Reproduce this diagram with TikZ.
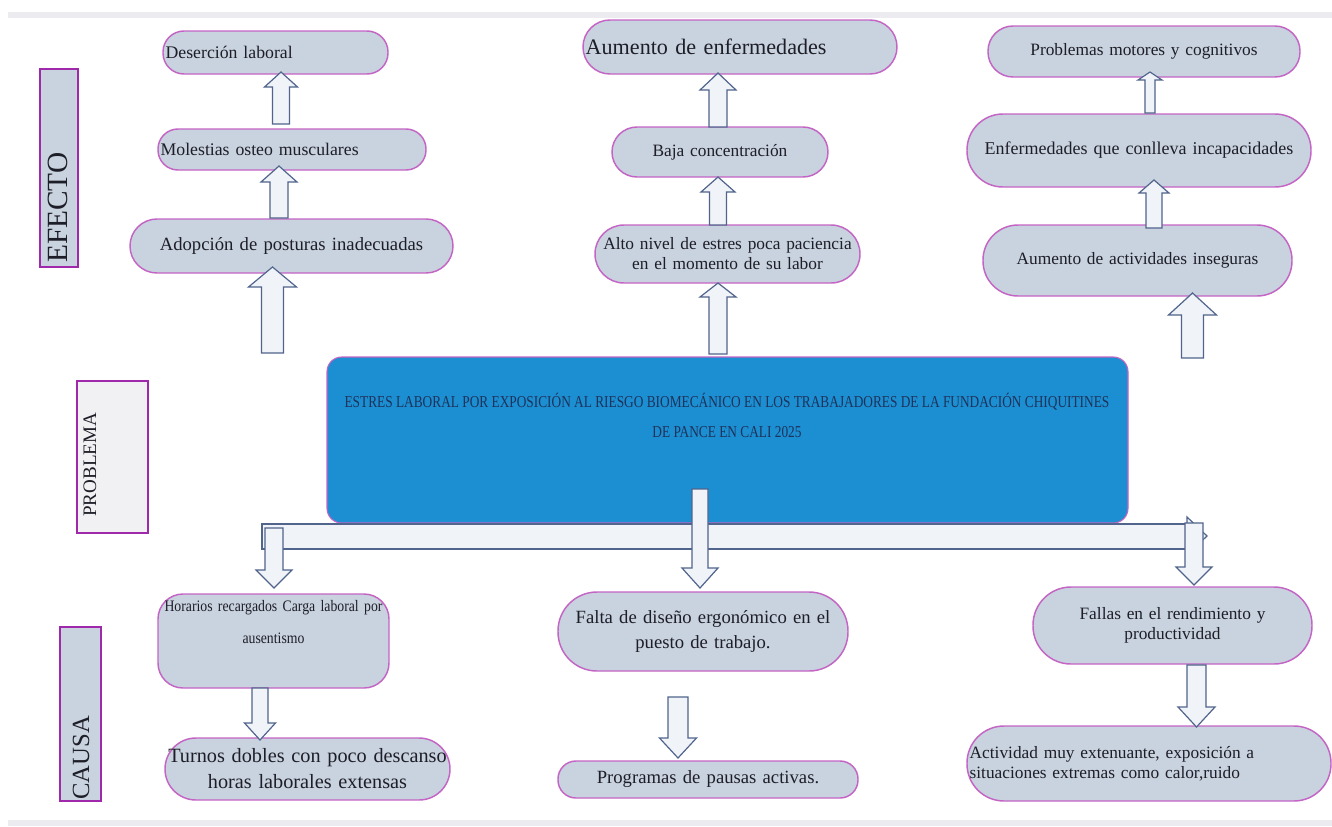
\documentclass[tikz,border=0pt]{standalone}
\usepackage{fontspec}
\setmainfont{Liberation Serif}
\newfontfamily\condA[FakeStretch=0.8]{Liberation Serif}
\newfontfamily\condB[FakeStretch=0.86]{Liberation Serif}
\definecolor{pillfill}{RGB}{200,211,223}
\definecolor{pillborder}{RGB}{196,100,196}
\definecolor{sideborder}{RGB}{160,40,170}
\definecolor{pbfill}{RGB}{241,241,243}
\definecolor{arrfill}{RGB}{240,243,248}
\definecolor{arrdraw}{RGB}{80,100,140}
\definecolor{probfill}{RGB}{27,143,210}
\definecolor{probtxt}{RGB}{30,50,90}
\definecolor{txt}{RGB}{30,30,40}
\definecolor{band}{RGB}{236,236,240}
\tikzset{
  pill/.style={draw=pillborder, fill=pillfill, line width=1.1pt, inner xsep=2pt, inner ysep=0pt, text=txt},
  pw/.style n args={3}{minimum width={#1*0.75pt}, minimum height={#2*0.75pt}, rounded corners={#3*0.75pt}, text width={#1*0.75pt-4pt}},
  sidebox/.style={draw=sideborder, line width=2.2pt, inner sep=0pt},
  sidetxt/.style={rotate=90, anchor=west, inner sep=0pt, text=txt},
  barrow/.style={draw=arrdraw, fill=arrfill, line width=0.9pt, line join=miter},
}
\newcommand{\uparr}[6]{\draw[barrow] (#1-#4,#2) -- (#1-#4,#3+#6) -- (#1-#5,#3+#6) -- (#1,#3) -- (#1+#5,#3+#6) -- (#1+#4,#3+#6) -- (#1+#4,#2) -- cycle;}
\newcommand{\dnarr}[6]{\draw[barrow] (#1-#4,#2) -- (#1-#4,#3-#6) -- (#1-#5,#3-#6) -- (#1,#3) -- (#1+#5,#3-#6) -- (#1+#4,#3-#6) -- (#1+#4,#2) -- cycle;}
\begin{document}
\begin{tikzpicture}[x=0.75pt, y=-0.75pt]
\useasboundingbox (0,0) rectangle (1332,826);
\fill[white] (0,0) rectangle (1332,826);
\fill[band] (8,12) rectangle (1332,18);
\fill[band] (8,820) rectangle (1332,826);

% side labels
\node[sidebox, fill=pillfill, minimum width=38*0.75pt, minimum height=198*0.75pt] (efbox) at (59,168) {};
\node[sidetxt, font=\fontsize{22}{26}\selectfont] (eft) at (58,263) {EFECTO};
\node[sidebox, fill=pbfill, minimum width=71*0.75pt, minimum height=152*0.75pt] (pbbox) at (112.5,457) {};
\node[sidetxt, font=\fontsize{14.3}{17}\selectfont] (pbt) at (90,517) {PROBLEMA};
\node[sidebox, fill=pillfill, minimum width=41*0.75pt, minimum height=174*0.75pt] (cabox) at (80.5,714) {};
\node[sidetxt, font=\fontsize{18.5}{22}\selectfont] (cat) at (81,800) {CAUSA};

% effects
\node[pill, pw={225}{43}{21}, align=left, font=\fontsize{13.3}{16}\selectfont] (des) at (275.5,52.5) {Deserción laboral};
\node[pill, pw={268}{41}{20}, align=left, font=\fontsize{13.3}{16}\selectfont] (mol) at (292,149.5) {Molestias osteo musculares};
\node[pill, pw={323}{54}{27}, align=center, font=\fontsize{14}{17}\selectfont] (ado) at (291.5,246) {Adopción de posturas inadecuadas};
\node[pill, pw={314}{54}{27}, align=left, font=\fontsize{16.6}{20}\selectfont] (aum) at (740,47) {Aumento de enfermedades};
\node[pill, pw={216}{50}{25}, align=center, font=\fontsize{13}{16}\selectfont] (baj) at (720,152) {Baja concentración};
\node[pill, pw={265}{58}{29}, align=center, font=\fontsize{13}{15}\selectfont] (alto) at (727.5,254) {Alto nivel de estres poca paciencia\\en el momento de su labor};
\node[pill, pw={312}{51}{25}, align=center, font=\fontsize{13}{16}\selectfont] (pmc) at (1144,51.5) {Problemas motores y cognitivos};
\node[pill, pw={344}{73}{36}, align=center, font=\fontsize{13.5}{16}\selectfont] (enf) at (1139,150.5) {Enfermedades que conlleva incapacidades};
\node[pill, pw={309}{71}{35}, align=center, font=\fontsize{13}{16}\selectfont] (act) at (1137.5,260.5) {Aumento de actividades inseguras};

% causes
\node[pill, pw={231}{94}{25}, align=center, font=\condB\fontsize{12}{14.4}\selectfont] (hor) at (273.5,641) {Horarios recargados Carga laboral por\\[10pt]ausentismo\\[14pt]\mbox{}};
\node[pill, pw={285}{62}{31}, text width=211pt, inner xsep=0pt, align=center, font=\fontsize{15.2}{19.5}\selectfont] (tur) at (307.5,769) {Turnos dobles con poco descanso\\horas laborales extensas};
\node[pill, pw={290}{79}{39}, align=center, font=\fontsize{14}{18.7}\selectfont] (fal) at (703,631.5) {Falta de diseño ergonómico en el\\puesto de trabajo.};
\node[pill, pw={300}{37}{18}, align=center, font=\fontsize{14}{17}\selectfont] (pro) at (708,779.5) {Programas de pausas activas.};
\node[pill, pw={279}{77}{38}, align=center, font=\fontsize{13}{15}\selectfont] (fall) at (1172.5,625.5) {Fallas en el rendimiento y\\productividad};
\node[pill, pw={364}{75}{37}, align=left, font=\fontsize{13}{15}\selectfont] (acti) at (1149,763.5) {Actividad muy extenuante, exposición a\\situaciones extremas como calor,ruido};

% problem
\node[draw=pillborder, fill=probfill, line width=0.8pt, rounded corners=11pt, minimum width=801*0.75pt, minimum height=166*0.75pt] (prob) at (727.5,440) {};
\node[font=\condA\fontsize{12.5}{15}\selectfont, text=probtxt, align=center, inner sep=0pt] (probt) at (727,415) {ESTRES LABORAL POR EXPOSICIÓN AL RIESGO BIOMECÁNICO EN LOS TRABAJADORES DE LA FUNDACIÓN CHIQUITINES\\[7.5pt]DE PANCE EN CALI 2025};

% bar
\draw[barrow] (262,524) rectangle (1190,549);
\draw[barrow] (1187,517) -- (1207,536) -- (1187,555) -- cycle;

% up arrows
\uparr{281}{124}{72}{8.5}{16.5}{15}
\uparr{279}{218}{166}{9}{18}{16}
\uparr{272.5}{353}{267}{11}{24}{20}
\uparr{718}{127}{73}{9}{18}{17}
\uparr{718}{225}{177}{8.5}{17}{15}
\uparr{718}{354}{283}{9}{18}{14}
\uparr{1150}{113}{72}{5}{12}{8}
\uparr{1154}{228}{180}{8}{15}{13}
\uparr{1192.5}{358}{293}{11}{24}{22}

% down arrows
\dnarr{274}{528}{588}{9}{18}{18}
\dnarr{700}{489}{588}{8}{18}{20}
\dnarr{1194}{523}{585}{9}{18}{18}
\dnarr{260}{688}{740}{8}{15.5}{17}
\dnarr{678}{697}{758}{10}{18.5}{20}
\dnarr{1196.5}{665}{727}{9.5}{18.5}{20}
\end{tikzpicture}
\end{document}
